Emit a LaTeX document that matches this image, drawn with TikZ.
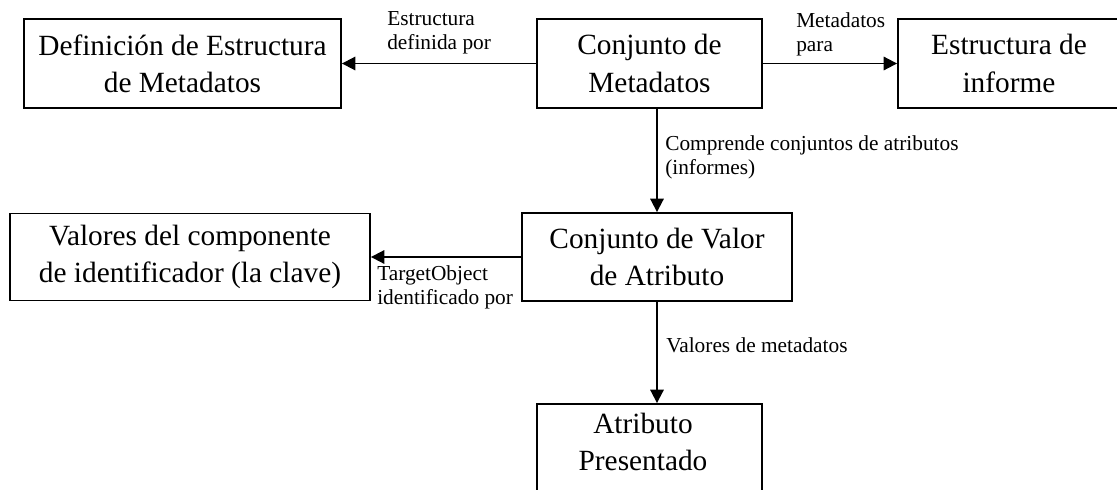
\documentclass[tikz,border=0pt]{standalone}
\usepackage{fontspec}
\setmainfont{Liberation Serif}
\usetikzlibrary{arrows.meta,positioning}

\tikzset{
  caja/.style={draw, line width=1.4pt, align=center, inner sep=0pt,
    font=\fontsize{22}{28}\selectfont},
  etiqueta/.style={align=left, inner sep=0pt, anchor=west,
    font=\fontsize{16}{18}\selectfont},
  flecha/.style={line width=1.4pt, -{Triangle[length=10pt,width=10pt]}}
}

\begin{document}
\begin{tikzpicture}[x=0.75pt, y=-0.75pt]
    % frame
    \useasboundingbox (0,0) rectangle (1117,489);

    % variables
    \def\rowTop{63.5}
    \def\rowMid{257}

    % Boxes, top row
    \node[caja, minimum width=237.75pt, minimum height=66.75pt] (defest) at (182.5, \rowTop) {Definición de Estructura\\de Metadatos};
    \node[caja, minimum width=168.75pt, minimum height=66.75pt] (conjmeta) at (649.5, \rowTop) {Conjunto de\\Metadatos};
    \node[caja, minimum width=166.5pt, minimum height=66.75pt] (estinf) at (1009, \rowTop) {Estructura de\\informe};

    % Boxes, middle row
    \node[caja, minimum width=270pt, minimum height=65.25pt] (valid) at (190, \rowMid) {Valores del componente\\de identificador (la clave)};
    \node[caja, minimum width=202.5pt, minimum height=66pt] (conjval) at (657, \rowMid) {Conjunto de Valor\\de Atributo};

    % Box, bottom (runs off the page)
    \node[caja, minimum width=168.75pt, minimum height=79.5pt] (atrpres) at (649.5, 457) {};
    \node[caja, draw=none] (atrprestxt) at (643, 442) {Atributo\\Presentado};

    % Arrows
    \draw[flecha] (conjmeta) -- (defest);
    \draw[flecha] (conjmeta) -- (estinf);
    \draw[flecha] (conjmeta.south -| conjval.north) -- (conjval.north);
    \draw[flecha] (conjval) -- (valid);
    \draw[flecha] (conjval.south) -- (conjval.south |- atrpres.north);

    % Labels
    \node[etiqueta] (lbldef) at (387, 33) {Estructura\\definida por};
    \node[etiqueta] (lblpara) at (796, 34) {Metadatos\\para};
    \node[etiqueta] (lblcomp) at (665, 157) {Comprende conjuntos de atributos\\(informes)};
    \node[etiqueta] (lbltarget) at (377, 287) {TargetObject\\identificado por};
    \node[etiqueta] (lblval) at (666, 345) {Valores de metadatos};
\end{tikzpicture}
\end{document}
